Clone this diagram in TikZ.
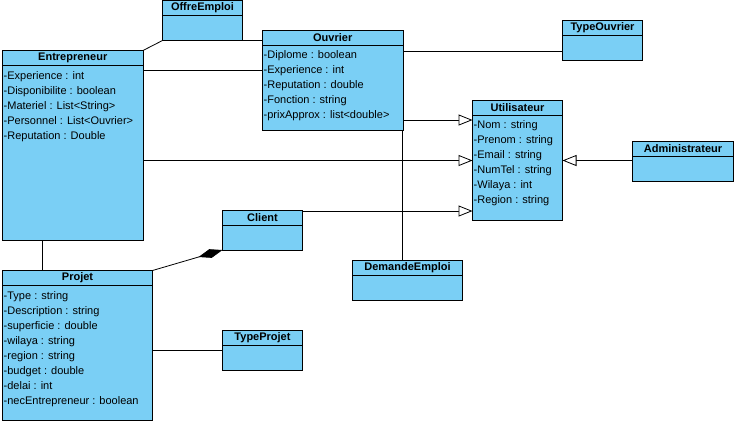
\documentclass[tikz,border=0pt]{standalone}
\usepackage{fontspec}
\setmainfont{Liberation Sans}
\usetikzlibrary{positioning}
\usetikzlibrary{arrows.meta}
\definecolor{classfill}{RGB}{122,207,245}

\begin{document}
\begin{tikzpicture}[x=1pt, y=-1pt,
	classhead/.style={draw, fill=classfill, line width=0.9pt, anchor=north west, minimum height=15, inner sep=0pt, outer sep=0pt, font=\fontsize{11}{13}\selectfont\bfseries},
	classbody/.style={draw, fill=classfill, line width=0.9pt, inner sep=0pt, outer sep=0pt, below=0pt of #1},
	attrs/.style={anchor=north west, align=left, inner xsep=1pt, inner ysep=5.5pt, font=\fontsize{11}{15}\selectfont},
	assoc/.style={line width=0.8pt},
	inherit/.style={line width=0.8pt, -{Triangle[fill=white, length=14pt, width=11pt]}},
	compo/.style={line width=0.8pt, -{Diamond[length=25pt, width=9pt]}}]
				\useasboundingbox (0,0) rectangle (736,424);
				
				\node[classhead, minimum width=80] (offreEmploi) at (162.5,0.5) {OffreEmploi};
				\node[classbody=offreEmploi, minimum width=80, minimum height=25] (offreEmploiBody) {};
				
				\node[classhead, minimum width=140.5] (entrepreneur) at (2.5,50.5) {Entrepreneur};
				\node[classbody=entrepreneur, minimum width=140.5, minimum height=175] (entrepreneurBody) {};
				\node[attrs] (entrepreneurAttr) at (entrepreneurBody.north west) {-Experience : int\\-Disponibilite : boolean\\-Materiel : List<String>\\-Personnel : List<Ouvrier>\\-Reputation : Double};
				
				\node[classhead, minimum width=140.5] (ouvrier) at (262.5,30) {Ouvrier};
				\node[classbody=ouvrier, minimum width=140.5, minimum height=85] (ouvrierBody) {};
				\node[attrs] (ouvrierAttr) at (ouvrierBody.north west) {-Diplome : boolean\\-Experience : int\\-Reputation : double\\-Fonction : string\\-prixApprox : list<double>};
				
				\node[classhead, minimum width=80] (typeOuvrier) at (562.5,20.5) {TypeOuvrier};
				\node[classbody=typeOuvrier, minimum width=80, minimum height=25] (typeOuvrierBody) {};
				
				\node[classhead, minimum width=90] (utilisateur) at (472.5,100) {Utilisateur};
				\node[classbody=utilisateur, minimum width=90, minimum height=105] (utilisateurBody) {};
				\node[attrs] (utilisateurAttr) at (utilisateurBody.north west) {-Nom : string\\-Prenom : string\\-Email : string\\-NumTel : string\\-Wilaya : int\\-Region : string};
				
				\node[classhead, minimum width=101] (administrateur) at (632.5,141) {Administrateur};
				\node[classbody=administrateur, minimum width=101, minimum height=25] (administrateurBody) {};
				
				\node[classhead, minimum width=80] (client) at (222.5,210) {Client};
				\node[classbody=client, minimum width=80, minimum height=25] (clientBody) {};
				
				\node[classhead, minimum width=110] (demandeEmploi) at (352.5,260) {DemandeEmploi};
				\node[classbody=demandeEmploi, minimum width=110, minimum height=25] (demandeEmploiBody) {};
				
				\node[classhead, minimum width=150] (projet) at (2.5,270.5) {Projet};
				\node[classbody=projet, minimum width=150, minimum height=134.5] (projetBody) {};
				\node[attrs] (projetAttr) at (projetBody.north west) {-Type : string\\-Description : string\\-superficie : double\\-wilaya : string\\-region : string\\-budget : double\\-delai : int\\-necEntrepreneur : boolean};
				
				\node[classhead, minimum width=80] (typeProjet) at (222.5,330.5) {TypeProjet};
				\node[classbody=typeProjet, minimum width=80, minimum height=25] (typeProjetBody) {};
				
				\draw[assoc]  (entrepreneur.north east) -- (offreEmploiBody.south west);
				\draw[assoc]  (offreEmploiBody.south east) -- (offreEmploiBody.south east -| ouvrier.west);
				\draw[assoc]  (entrepreneurBody.east |- 0,70.5) -- (ouvrierBody.west |- 0,70.5);
				\draw[assoc]  (ouvrierBody.east |- 0,51) -- (typeOuvrierBody.west |- 0,51);
				\draw[inherit]  (ouvrierBody.east |- 0,120) -- (utilisateurBody.west |- 0,120);
				\draw[inherit]  (entrepreneurBody.east |- 0,160.5) -- (utilisateurBody.west |- 0,160.5);
				\draw[inherit]  (client.east |- 0,211) -- (utilisateurBody.west |- 0,211);
				\draw[inherit]  (administrateurBody.west |- 0,160.5) -- (utilisateurBody.east |- 0,160.5);
				\draw[assoc]  (ouvrierBody.south -| 402,0) -- (demandeEmploi.north -| 402,0);
				\draw[assoc]  (entrepreneurBody.south -| 42.5,0) -- (projet.north -| 42.5,0);
				\draw[compo]  (projet.north east) -- (clientBody.south west);
				\draw[assoc]  (projetBody.east |- 0,350) -- (typeProjetBody.west |- 0,350);
			\end{tikzpicture}
\end{document}
